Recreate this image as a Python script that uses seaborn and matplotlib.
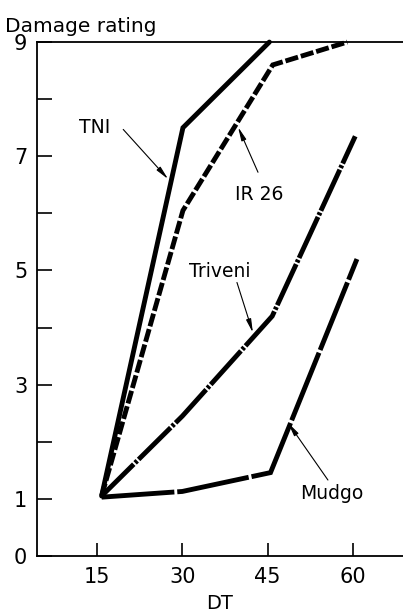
import pandas as pd
import matplotlib
matplotlib.use('Agg')
import matplotlib.pyplot as plt
import seaborn as sns

# readings (DT days vs damage rating)
tni_dt = [15.8, 30.1, 45.3]
tni_rating = [1.05, 7.5, 9.0]
ir26_dt = [15.8, 30.1, 45.9, 59.0]
ir26_rating = [1.05, 6.05, 8.6, 9.0]
triveni_dt = [15.8, 30.0, 45.8, 60.4]
triveni_rating = [1.05, 2.45, 4.2, 7.35]
mudgo_dt = [15.8, 30.0, 45.5, 60.7]
mudgo_rating = [1.03, 1.13, 1.46, 5.2]

x_ticks = [15, 30, 45, 60]
y_ticks = [0, 1, 3, 5, 7, 9]
y_minor = [2, 4, 6, 8]

# label text, text position, arrow tail, arrow head
labels = [
    ('TNI', (14.6, 7.5), (19.6, 7.47), (27.5, 6.6)),
    ('IR 26', (43.5, 6.33), (43.3, 6.72), (39.8, 7.51)),
    ('Triveni', (36.6, 4.98), (39.6, 4.79), (42.4, 3.91)),
    ('Mudgo', (56.3, 1.09), (55.6, 1.33), (48.6, 2.33)),
]


def load_data():
    frames = []
    for name, xs, ys in [('TNI', tni_dt, tni_rating),
                         ('IR 26', ir26_dt, ir26_rating),
                         ('Triveni', triveni_dt, triveni_rating),
                         ('Mudgo', mudgo_dt, mudgo_rating)]:
        frames.append(pd.DataFrame({'variety': name, 'DT': xs, 'rating': ys}))
    return pd.concat(frames, ignore_index=True)


def plot(df):
    sns.set_style('ticks')
    plt.rcParams['font.family'] = ['DejaVu Sans']
    plt.rcParams['text.color'] = 'black'
    plt.rcParams['axes.labelcolor'] = 'black'
    plt.rcParams['axes.edgecolor'] = 'black'

    fig = plt.figure(figsize=(4.03, 6.14), dpi=100)
    ax = fig.add_axes([0.092, 0.0945, 0.908, 0.837])

    styles = {
        'TNI': '-',
        'IR 26': (0, (2.7, 0.6)),
        'Triveni': (0, (9.3, 0.4, 0.6, 0.4)),
        'Mudgo': (0, (15, 0.6)),
    }
    for name, ls in styles.items():
        sub = df[df['variety'] == name]
        sns.lineplot(data=sub, x='DT', y='rating', ax=ax, color='black',
                     lw=3.5, linestyle=ls, clip_on=False, legend=False,
                     solid_joinstyle='miter', dash_joinstyle='miter')

    for text, pos, tail, head in labels:
        ax.text(pos[0], pos[1], text, fontsize=13.5, ha='center', va='center',
                color='black')
        ax.annotate('', xy=head, xytext=tail,
                    arrowprops=dict(arrowstyle='-|>,head_length=0.8,head_width=0.15',
                                    color='black', lw=0.8, shrinkA=0, shrinkB=0))

    ax.set_xlim(4.45, 68.8)
    ax.set_ylim(0, 9)
    ax.set_xticks(x_ticks)
    ax.set_yticks(y_ticks)
    ax.set_yticks(y_minor, minor=True)
    ax.tick_params(axis='both', which='both', direction='in', width=1.2,
                   labelsize=15, colors='black')
    ax.tick_params(axis='y', which='both', length=11, pad=7)
    ax.tick_params(axis='x', which='major', length=9.5, pad=8)

    ax.spines['right'].set_visible(False)
    for s in ['left', 'bottom', 'top']:
        ax.spines[s].set_linewidth(1.3)
        ax.spines[s].set_color('black')

    ax.set_xlabel('DT', fontsize=14, labelpad=5)
    ax.set_ylabel('Damage rating', fontsize=14.5, rotation=0, ha='left', va='bottom')
    ax.yaxis.set_label_coords(-0.087, 1.012)

    fig.savefig('out.png', dpi=100)


def main():
    df = load_data()
    plot(df)


if __name__ == '__main__':
    main()
